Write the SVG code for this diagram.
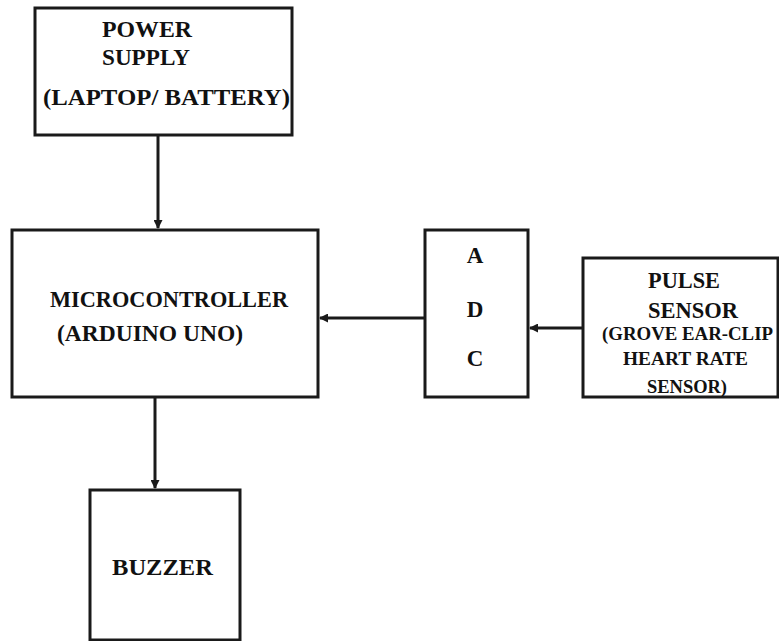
<svg xmlns="http://www.w3.org/2000/svg" width="779" height="641" viewBox="0 0 779 641">
<style>
.box{fill:#fff;stroke:#1a1a1a;stroke-width:3}
.t{font-family:'Liberation Serif','DejaVu Serif','Times New Roman',serif;font-weight:bold;fill:#111;font-size:23px}
.s{font-size:18px}
.c{stroke:#1a1a1a;stroke-width:3;fill:none;marker-end:url(#ah)}
</style>
<defs>
<marker id="ah" markerWidth="9" markerHeight="9" refX="8" refY="4.5" orient="auto" markerUnits="userSpaceOnUse" viewBox="0 0 9 9">
<path d="M0,0 L9,4.5 L0,9 Z" fill="#1a1a1a"/>
</marker>
</defs>
<rect width="779" height="641" fill="#fff"/>
<g id="power">
<rect class="box" x="35" y="8" width="257" height="127"/>
<text class="t" x="102" y="37" textLength="90" lengthAdjust="spacingAndGlyphs">POWER</text>
<text class="t" x="102" y="65" textLength="88" lengthAdjust="spacingAndGlyphs">SUPPLY</text>
<text class="t" x="43" y="105" textLength="247" lengthAdjust="spacingAndGlyphs">(LAPTOP/ BATTERY)</text>
</g>
<g id="micro">
<rect class="box" x="12" y="230" width="306" height="167"/>
<text class="t" x="50" y="307" textLength="238" lengthAdjust="spacingAndGlyphs">MICROCONTROLLER</text>
<text class="t" x="57" y="341" textLength="186" lengthAdjust="spacingAndGlyphs">(ARDUINO UNO)</text>
</g>
<g id="adc">
<rect class="box" x="425" y="230" width="103" height="167"/>
<text class="t" x="475" y="263" text-anchor="middle">A</text>
<text class="t" x="475" y="317" text-anchor="middle">D</text>
<text class="t" x="475" y="366" text-anchor="middle">C</text>
</g>
<g id="pulse">
<rect class="box" x="583" y="258" width="195" height="139"/>
<text class="t" x="648" y="288" textLength="72" lengthAdjust="spacingAndGlyphs">PULSE</text>
<text class="t" x="648" y="318" textLength="90" lengthAdjust="spacingAndGlyphs">SENSOR</text>
<text class="t s" x="602" y="340" textLength="171" lengthAdjust="spacingAndGlyphs">(GROVE EAR-CLIP</text>
<text class="t s" x="623" y="365" textLength="125" lengthAdjust="spacingAndGlyphs">HEART RATE</text>
<text class="t s" x="647" y="393" textLength="80" lengthAdjust="spacingAndGlyphs">SENSOR)</text>
</g>
<g id="buzzer">
<rect class="box" x="90" y="490" width="150" height="150"/>
<text class="t" x="112" y="575" textLength="101" lengthAdjust="spacingAndGlyphs">BUZZER</text>
</g>
<g id="connectors">
<line class="c" x1="158" y1="135" x2="158" y2="228"/>
<line class="c" x1="425" y1="318" x2="320" y2="318"/>
<line class="c" x1="583" y1="328" x2="530" y2="328"/>
<line class="c" x1="155" y1="397" x2="155" y2="488"/>
</g>
</svg>
